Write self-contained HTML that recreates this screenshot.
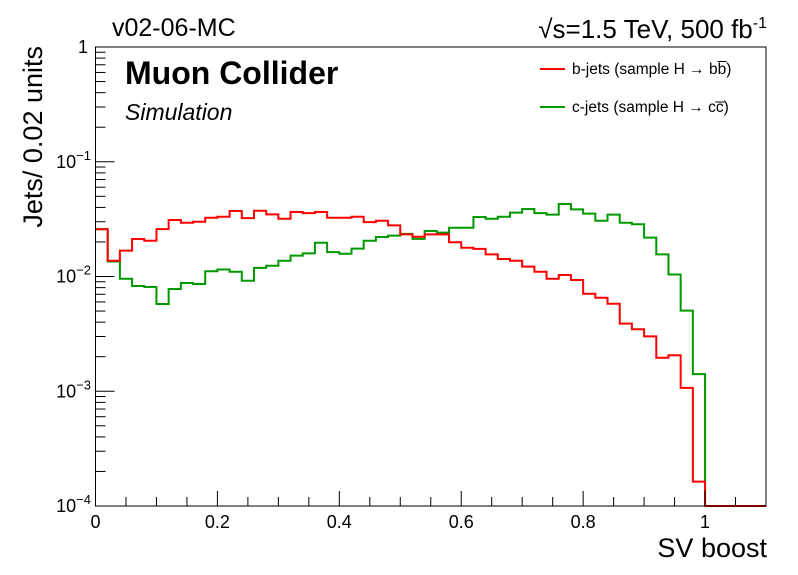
<!DOCTYPE html>
<html><head><meta charset="utf-8"><style>
html,body{margin:0;padding:0;background:#fff;}
svg{display:block;font-family:"Liberation Sans",Arial,sans-serif;}
</style></head><body>
<svg id="chart" width="798" height="575" viewBox="0 0 798 575">
<rect x="0" y="0" width="798" height="575" fill="#fff"/>
<g id="marks"></g>
<g id="axes"></g>
<text x="112" y="36" font-size="25">v02-06-MC</text>
<text x="767" y="38" font-size="26" text-anchor="end">√s=1.5 TeV, 500 fb<tspan dy="-10" font-size="16">-1</tspan></text>
<text x="125" y="84" font-size="32" font-weight="bold">Muon Collider</text>
<text x="125" y="120" font-size="23" font-style="italic">Simulation</text>
<g>
<line x1="540" y1="69" x2="565" y2="69" stroke="#f00" stroke-width="2"/>
<text x="572" y="74" font-size="15.5">b-jets (sample H → bb̅)</text>
<line x1="540" y1="107" x2="565" y2="107" stroke="#009900" stroke-width="2"/>
<text x="572" y="112" font-size="15.5">c-jets (sample H → cc̅)</text>
</g>
<text transform="translate(42,46) rotate(-90)" x="0" y="0" font-size="27" text-anchor="end">Jets/ 0.02 units</text>
<text x="767" y="557" font-size="27" text-anchor="end">SV boost</text>
</svg>
<script>
const binWidth = 0.02;
const nBins = 55;
const bjets = [0.0258,0.0137,0.0168,0.0212,0.0205,0.0259,0.0311,0.0294,0.0300,0.0325,
0.0332,0.0372,0.0323,0.0374,0.0348,0.0319,0.0365,0.0357,0.0365,0.0325,
0.0325,0.0332,0.0298,0.0306,0.0279,0.0233,0.0222,0.0233,0.0233,0.0199,
0.0178,0.0174,0.0156,0.0142,0.0137,0.0122,0.0110,0.00957,0.0103,0.00933,
0.00708,0.00653,0.00579,0.00388,0.00347,0.00301,0.00196,0.00206,0.00107,0.000163,
0,0,0,0,0];
const cjets = [0.0259,0.0135,0.00957,0.00826,0.00810,0.00576,0.00778,0.00877,0.00861,0.0111,
0.0115,0.0110,0.00919,0.0119,0.0124,0.0137,0.0152,0.0159,0.0197,0.0163,
0.0158,0.0175,0.0205,0.0221,0.0227,0.0235,0.0213,0.0249,0.0241,0.0266,
0.0266,0.0330,0.0319,0.0332,0.0360,0.0387,0.0357,0.0346,0.0428,0.0385,
0.0353,0.0306,0.0346,0.0294,0.0285,0.0218,0.0156,0.0104,0.00504,0.00141,
0,0,0,0,0];
const xTicks = [0,0.2,0.4,0.6,0.8,1];
const xTickLabels = ["0","0.2","0.4","0.6","0.8","1"];
const yDecades = [0,-1,-2,-3,-4];

const L=95.5,R=766,T=47,B=506, xMax=1.1, yMinLog=-4, yMaxLog=0;
function xs(v){return L+(v/xMax)*(R-L);}
function ys(v){ if(v<=0) return B; let lg=Math.log10(v); if(lg<yMinLog) lg=yMinLog; return T+(yMaxLog-lg)/(yMaxLog-yMinLog)*(B-T);}
const NS="http://www.w3.org/2000/svg";
function mk(tag,attrs,parent){const e=document.createElementNS(NS,tag);for(const k in attrs)e.setAttribute(k,attrs[k]);parent.appendChild(e);return e;}
const marks=document.getElementById('marks'), axes=document.getElementById('axes');
function hist(vals,color,name){
  let d='';
  for(let i=0;i<vals.length;i++){
    const x0=xs(i*binWidth),x1=xs((i+1)*binWidth),y=ys(vals[i]);
    d+=(i===0?'M'+x0+','+y:'L'+x0+','+y)+'L'+x1+','+y;
  }
  const p=mk('path',{d:d,fill:'none',stroke:color,'stroke-width':2},marks);
  
  
}
hist(cjets,'#009900','cjets-histogram');
hist(bjets,'#ff0000','bjets-histogram');

const frame=mk('rect',{x:L,y:T,width:R-L,height:B-T,fill:'none',stroke:'#000','stroke-width':1},axes);


for(let k=0;k<=22;k++){
  const v=k*0.05, x=xs(v), major=(k%4===0);
  const t=mk('line',{x1:x,y1:B,x2:x,y2:B-(major?15:9),stroke:'#000','stroke-width':1},axes);
  
  
}
xTicks.forEach((v,i)=>{
  const t=mk('text',{x:xs(v),y:528,'font-size':18,'text-anchor':'middle'},axes);
  t.textContent=xTickLabels[i];
  
  
});
yDecades.forEach(dec=>{
  const y=ys(Math.pow(10,dec));
  const t=mk('line',{x1:L,y1:y,x2:L+19,y2:y,stroke:'#000','stroke-width':1},axes);
  
  
  if(dec<0){
    for(let m=2;m<=9;m++){
      const yy=ys(m*Math.pow(10,dec));
      const mt=mk('line',{x1:L,y1:yy,x2:L+10,y2:yy,stroke:'#000','stroke-width':1},axes);
      
      
    }
  }
  const lab=mk('text',{x:88,y:y+6,'font-size':18,'text-anchor':'end'},axes);
  if(dec===0){lab.textContent='1';}
  else{
    lab.textContent='10';
    const sp=mk('tspan',{dy:-8,'font-size':13},lab);
    sp.textContent='\u2212'+(-dec);
    lab.setAttribute('x',91);
  }
  
  
});
</script>
</body></html>
